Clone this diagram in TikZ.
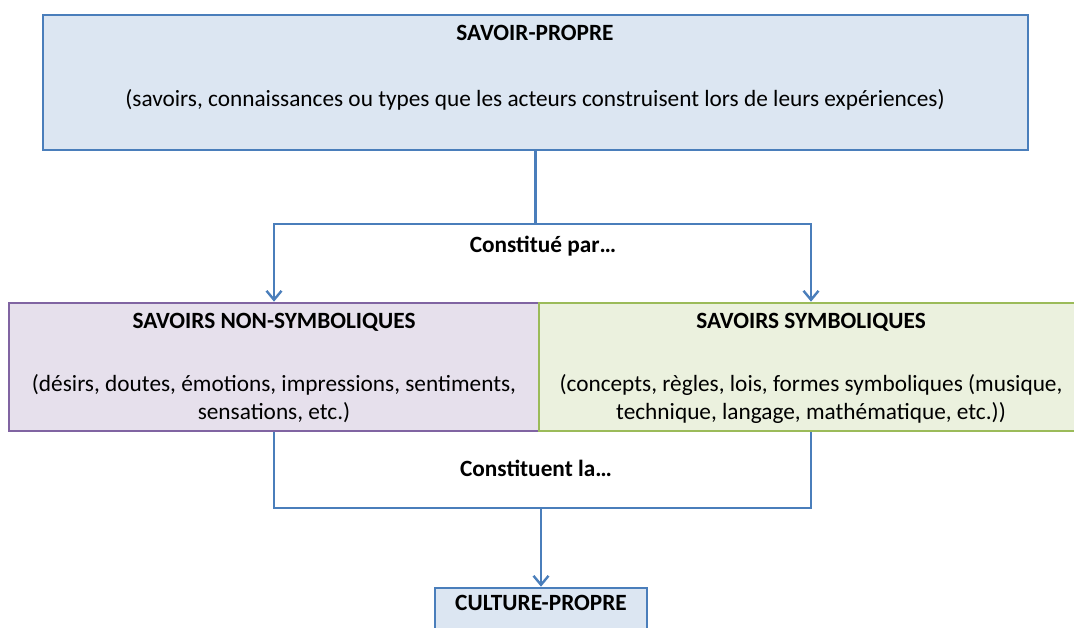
\documentclass[tikz,border=0pt]{standalone}
\usepackage{fontspec}
\setmainfont{Carlito}
\usetikzlibrary{arrows.meta}

\definecolor{bleuclair}{HTML}{DCE6F2}
\definecolor{bleu}{HTML}{4A7EBB}
\definecolor{mauveclair}{HTML}{E6E0EC}
\definecolor{mauve}{HTML}{8064A2}
\definecolor{vertclair}{HTML}{EBF1DE}
\definecolor{vert}{HTML}{9BBB59}

\begin{document}
\begin{tikzpicture}[x=1pt,y=-1pt,
  boite/.style={line width=2.6pt, inner sep=0pt},
  titre/.style={font=\fontsize{23.3}{27}\selectfont\bfseries},
  texte/.style={font=\fontsize{23.3}{28}\selectfont, align=center},
  lien/.style={draw=bleu, line width=2.4pt},
  fleche/.style={lien, -{Straight Barb[length=9pt,width=15pt,line width=2.4pt]}}]
  \useasboundingbox (0,0) rectangle (1074,628);
  % 四个方框
  \node[boite, fill=bleuclair, draw=bleu, minimum width=985pt, minimum height=135pt] (propre) at (535.5,82.5) {};
  \node[boite, fill=mauveclair, draw=mauve, minimum width=530pt, minimum height=128pt] (nonsymb) at (274,367) {};
  \node[boite, fill=vertclair, draw=vert, minimum width=544pt, minimum height=128pt] (symb) at (811,367) {};
  \node[boite, fill=bleuclair, draw=bleu, minimum width=212pt, minimum height=60pt] (culture) at (541,618) {};
  % 方框里的文字
  \node[titre] (propre-titre) at (535,33) {SAVOIR-PROPRE};
  \node[texte] (propre-texte) at (535,100) {(savoirs, connaissances ou types que les acteurs construisent lors de leurs expériences)};
  \node[titre] (nonsymb-titre) at (274,322) {SAVOIRS NON-SYMBOLIQUES};
  \node[texte] (nonsymb-texte) at (274,399) {(désirs, doutes, émotions, impressions, sentiments,\\sensations, etc.)};
  \node[titre] (symb-titre) at (811,322) {SAVOIRS SYMBOLIQUES};
  \node[texte] (symb-texte) at (811,399) {(concepts, règles, lois, formes symboliques (musique,\\technique, langage, mathématique, etc.))};
  \node[titre] (culture-titre) at (541,603) {CULTURE-PROPRE};
  % 分叉点
  \coordinate (fourche-haut) at (535.5,224);
  \coordinate (fourche-bas) at (541,508);
  % 连线与箭头
  \draw[lien] (propre.south) -- (fourche-haut);
  \draw[fleche] (fourche-haut) -| (nonsymb.north);
  \draw[fleche] (fourche-haut) -| (symb.north);
  \draw[lien] (nonsymb.south) |- (fourche-bas) -| (symb.south);
  \draw[fleche] (fourche-bas) -- (culture.north);
  % 连线上的标注
  \node[titre] (par) at (543,246) {Constitué par…};
  \node[titre] (la) at (536,468) {Constituent la…};
\end{tikzpicture}
\end{document}
